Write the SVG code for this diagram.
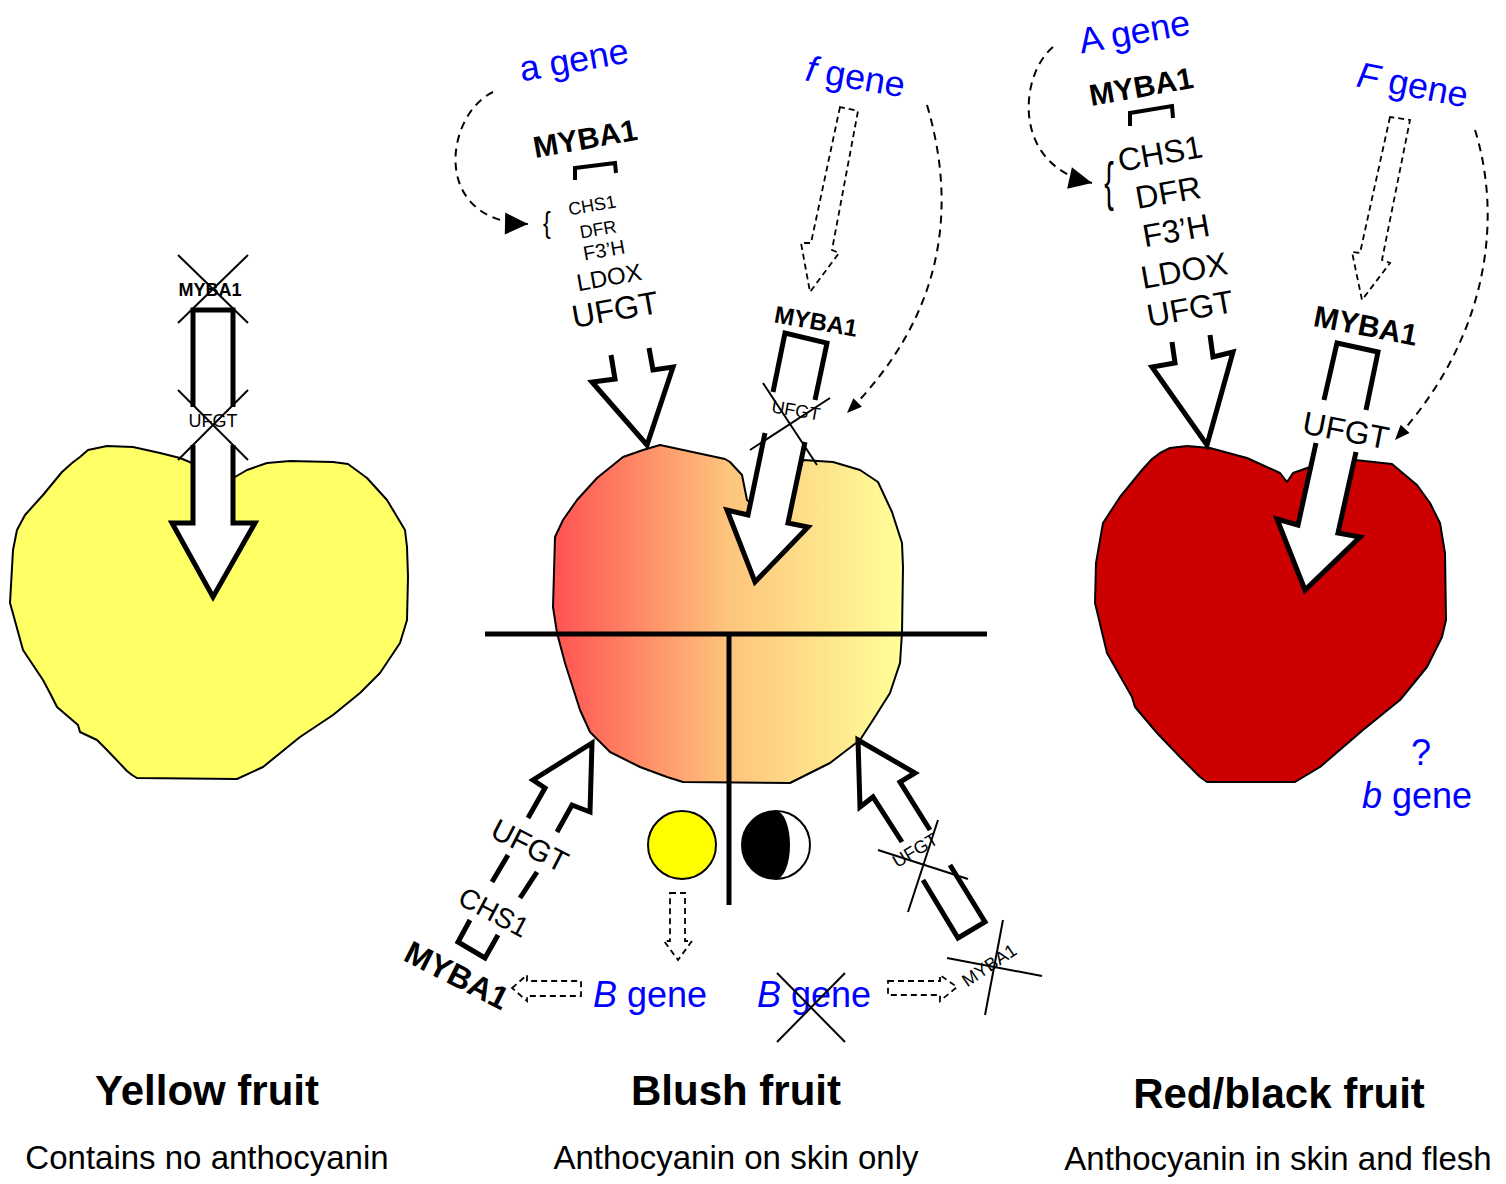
<svg xmlns="http://www.w3.org/2000/svg" width="1506" height="1184" viewBox="0 0 1506 1184">
  <style>
    text { font-family: "Liberation Sans", Arial, sans-serif; fill: #000; }
    .gene { fill: #0000ff; font-size: 36px; }
    .bold { font-weight: bold; }
    .mid { text-anchor: middle; }
    .skin { stroke: #000; stroke-width: 2; stroke-linejoin: round; }
    .body { fill: #fff; stroke: none; }
    .edge { fill: none; stroke: #000; stroke-width: 5; stroke-linejoin: miter; }
    .bracket { fill: none; stroke: #000; stroke-width: 4; }
    .cross { stroke: #000; stroke-width: 2; }
    .curve { fill: none; stroke: #000; stroke-width: 2; stroke-dasharray: 8 6; }
    .hollow { fill: none; stroke: #000; stroke-width: 1.8; stroke-dasharray: 6 4; }
    .title { font-size: 42px; font-weight: bold; text-anchor: middle; }
    .note { font-size: 33px; text-anchor: middle; }
  </style>
  <defs>
    <linearGradient id="blush" gradientUnits="userSpaceOnUse" x1="553" y1="0" x2="903" y2="0">
      <stop offset="0" stop-color="#ff5252"/>
      <stop offset="0.5" stop-color="#fdc47c"/>
      <stop offset="1" stop-color="#ffff99"/>
    </linearGradient>
    <marker id="headBig" markerUnits="userSpaceOnUse" markerWidth="30" markerHeight="30" refX="0" refY="0" orient="auto" style="overflow:visible">
      <path d="M0,0 L-23,-11 L-23,11 Z" fill="#000"/>
    </marker>
    <marker id="headSmall" markerUnits="userSpaceOnUse" markerWidth="20" markerHeight="20" refX="0" refY="0" orient="auto" style="overflow:visible">
      <path d="M0,0 L-15,-6 L-15,6 Z" fill="#000"/>
    </marker>
  </defs>

  <rect width="1506" height="1184" fill="#fff"/>

  <!-- Yellow fruit: no active MYBA1 -->
  <g id="yellow-fruit">
    <path class="skin" fill="#ffff66" d="M80,457 L88,450 L107,446 L133,447 L160,453 L180,458 L192,463 L213,470 L235,477 L247,470 L267,463 L290,461 L333,462 L348,464 L367,478 L387,500 L405,530 L407,547 L408,577 L407,620 L400,643 L380,673 L360,693 L333,715 L300,737 L263,767 L237,779 L137,778 L132,775 L127,771 L107,750 L97,740 L80,732 L78,725 L57,707 L52,697 L43,680 L23,650 L12,610 L10,603 L13,550 L17,530 L25,515 L43,495 L62,472 L72,463 Z"/>
    <path class="body" d="M193,310 L233,310 L233,523 L255,523 L213,597 L172,523 L193,523 Z"/>
    <path class="edge" d="M193,407 L193,310 L233,310 L233,407"/>
    <path class="edge" d="M193,445 L193,523 L172,523 L213,597 L255,523 L233,523 L233,445"/>
    <text class="bold mid" x="210" y="296" font-size="18">MYBA1</text>
    <line class="cross" x1="178" y1="255" x2="248" y2="323"/>
    <line class="cross" x1="248" y1="255" x2="178" y2="323"/>
    <text class="mid" x="213" y="427" font-size="18">UFGT</text>
    <line class="cross" x1="178" y1="390" x2="248" y2="460"/>
    <line class="cross" x1="248" y1="390" x2="178" y2="460"/>
  </g>

  <!-- Blush fruit: skin pathway only -->
  <g id="blush-fruit">
    <path class="skin" fill="url(#blush)" d="M660,445 L725,459 L730,462 L742,475 L747,500 L770,520 L800,470 L803,460 L833,462 L860,470 L878,482 L892,512 L902,543 L903,567 L902,633 L900,663 L890,693 L873,720 L860,740 L830,763 L790,783 L683,782 L667,777 L640,767 L610,752 L590,732 L580,710 L565,663 L557,633 L553,607 L555,537 L563,520 L577,500 L597,478 L623,457 L643,450 Z"/>
    <!-- skin / flesh section lines -->
    <line x1="485" y1="634" x2="987" y2="634" stroke="#000" stroke-width="5"/>
    <line x1="729" y1="634" x2="729" y2="905" stroke="#000" stroke-width="5"/>

    <!-- a gene side: MYBA1 drives the full pathway -->
    <g transform="translate(575,66) rotate(-10)"><text class="gene mid" y="6">a gene</text></g>
    <g transform="translate(585,138) rotate(-10)"><text class="bold mid" y="11" font-size="30">MYBA1</text></g>
    <polyline class="bracket" points="575,180 575,168 615,163 616,173"/>
    <text class="mid" transform="translate(547,233) scale(0.9,1.15)" font-size="26">{</text>
    <g transform="translate(592,205) rotate(-10)"><text class="mid" y="6.5" font-size="18">CHS1</text></g>
    <g transform="translate(598,229) rotate(-10)"><text class="mid" y="6.5" font-size="18">DFR</text></g>
    <g transform="translate(604,250) rotate(-10)"><text class="mid" y="7" font-size="20">F3’H</text></g>
    <g transform="translate(609,277) rotate(-10)"><text class="mid" y="8.6" font-size="24">LDOX</text></g>
    <g transform="translate(615,309) rotate(-10)"><text class="mid" y="11.5" font-size="32">UFGT</text></g>
    <path class="body" d="M611,355 L615,379 L592,382 L647,445 L673,367 L653,370 L649,348 Z"/>
    <path class="edge" d="M611,355 L615,379 L592,382 L647,445 L673,367 L653,370 L649,348"/>

    <!-- f gene side: flesh UFGT blocked -->
    <g transform="translate(855,80) rotate(10)"><text class="gene mid" y="9"><tspan font-style="italic">f</tspan> gene</text></g>
    <g transform="translate(816,321) rotate(10)"><text class="bold mid" y="8.6" font-size="24">MYBA1</text></g>
    <path class="body" d="M785,333 L748,515 L727,510 L755,582 L808,527 L788,523 L827,343 Z"/>
    <path class="edge" d="M773,392 L785,333 L827,343 L815,400"/>
    <path class="edge" d="M765,433 L748,515 L727,510 L755,582 L808,527 L788,523 L805,442"/>
    <g transform="translate(796,410) rotate(10)"><text class="mid" y="6.5" font-size="18">UFGT</text></g>
    <line class="cross" x1="763" y1="383" x2="817" y2="465"/>
    <line class="cross" x1="830" y1="398" x2="750" y2="450"/>

    <!-- B gene, sunlit side -->
    <circle cx="682" cy="845" r="34" fill="#ffff00" stroke="#000" stroke-width="2"/>
    <path class="body" d="M592,743 L533,780 L545,788 L458,942 L485,958 L572,805 L590,812 Z"/>
    <path class="edge" d="M528,818 L545,788 L533,780 L592,743 L590,812 L572,805 L557,832"/>
    <path class="edge" d="M508,855 L492,882"/>
    <path class="edge" d="M537,872 L520,898"/>
    <path class="edge" d="M470,920 L458,942 L485,958 L498,935"/>
    <g transform="translate(530,845) rotate(27)"><text class="mid" y="11" font-size="30">UFGT</text></g>
    <g transform="translate(494,912) rotate(28)"><text class="mid" y="10" font-size="28">CHS1</text></g>
    <g transform="translate(457,975) rotate(27)"><text class="bold mid" y="11.5" font-size="32">MYBA1</text></g>
    <text class="gene" x="593" y="1007"><tspan font-style="italic">B</tspan> gene</text>

    <!-- shaded side: B gene inactive -->
    <circle cx="776" cy="845" r="34" fill="#fff" stroke="#000" stroke-width="2"/>
    <path d="M776,811 A34,34 0 0 0 776,879 A14,34 0 0 0 776,811 Z" fill="#000"/>
    <path class="body" d="M858,740 L860,807 L873,797 L958,938 L985,922 L900,782 L915,773 Z"/>
    <path class="edge" d="M902,842 L873,797 L860,807 L858,740 L915,773 L900,782 L930,830"/>
    <path class="edge" d="M923,880 L958,938 L985,922 L950,865"/>
    <g transform="translate(915,850) rotate(-31)"><text class="mid" y="6.5" font-size="18">UFGT</text></g>
    <line class="cross" x1="878" y1="850" x2="968" y2="879"/>
    <line class="cross" x1="938" y1="820" x2="908" y2="912"/>
    <g transform="translate(989,965) rotate(-34)"><text class="mid" y="6.5" font-size="18">MYBA1</text></g>
    <line class="cross" x1="947" y1="958" x2="1042" y2="976"/>
    <line class="cross" x1="1003" y1="920" x2="985" y2="1015"/>
    <text class="gene" x="757" y="1007"><tspan font-style="italic">B</tspan> gene</text>
    <line class="cross" x1="777" y1="973" x2="845" y2="1042"/>
    <line class="cross" x1="845" y1="973" x2="777" y2="1042"/>
  </g>

  <!-- Red/black fruit: skin and flesh pathways -->
  <g id="red-fruit">
    <path class="skin" fill="#cc0000" d="M1160,453 L1170,448 L1187,446 L1210,448 L1247,458 L1280,473 L1287,482 L1293,473 L1310,467 L1330,480 L1355,460 L1392,464 L1417,485 L1430,503 L1440,523 L1445,553 L1446,620 L1442,637 L1427,667 L1400,700 L1363,730 L1320,767 L1295,782 L1207,782 L1200,777 L1180,757 L1157,733 L1135,707 L1132,697 L1107,653 L1095,603 L1096,563 L1103,523 L1120,497 L1142,470 L1152,459 Z"/>

    <g transform="translate(1135,35) rotate(-10)"><text class="gene mid" y="9">A gene</text></g>
    <g transform="translate(1141,86) rotate(-10)"><text class="bold mid" y="11" font-size="30">MYBA1</text></g>
    <polyline class="bracket" points="1130,126 1130,113 1172,106 1173,118"/>
    <text class="mid" transform="translate(1109,200) scale(0.9,1.7)" font-size="32">{</text>
    <g transform="translate(1160,153) rotate(-10)"><text class="mid" y="11.5" font-size="32">CHS1</text></g>
    <g transform="translate(1168,192) rotate(-10)"><text class="mid" y="11.5" font-size="32">DFR</text></g>
    <g transform="translate(1176,230) rotate(-10)"><text class="mid" y="11.5" font-size="32">F3’H</text></g>
    <g transform="translate(1184,270) rotate(-10)"><text class="mid" y="11.5" font-size="32">LDOX</text></g>
    <g transform="translate(1190,308) rotate(-10)"><text class="mid" y="11.5" font-size="32">UFGT</text></g>
    <path class="body" d="M1172,342 L1175,363 L1152,367 L1207,445 L1233,352 L1213,357 L1210,335 Z"/>
    <path class="edge" d="M1172,342 L1175,363 L1152,367 L1207,445 L1233,352 L1213,357 L1210,335"/>

    <g transform="translate(1412,88) rotate(11)"><text class="gene mid" y="9"><tspan font-style="italic">F</tspan> gene</text></g>
    <g transform="translate(1366,325) rotate(11)"><text class="bold mid" y="11" font-size="30">MYBA1</text></g>
    <path class="body" d="M1337,343 L1298,525 L1277,519 L1305,590 L1360,537 L1338,533 L1378,352 Z"/>
    <path class="edge" d="M1324,400 L1337,343 L1378,352 L1366,410"/>
    <path class="edge" d="M1316,443 L1298,525 L1277,519 L1305,590 L1360,537 L1338,533 L1356,452"/>
    <g transform="translate(1346,430) rotate(11)"><text class="mid" y="11.5" font-size="32">UFGT</text></g>

    <text class="gene mid" x="1421" y="765">?</text>
    <text class="gene" x="1362" y="808"><tspan font-style="italic">b</tspan> gene</text>
  </g>

  <!-- regulatory connectors -->
  <g id="connectors">
    <path class="curve" d="M493,92 C445,115 430,222 528,224" marker-end="url(#headBig)"/>
    <path class="curve" d="M1053,47 C1020,74 1010,165 1092,183" marker-end="url(#headBig)"/>
    <path class="curve" d="M927,105 C955,200 950,310 847,413" marker-end="url(#headSmall)"/>
    <path class="curve" d="M1475,130 C1500,210 1495,330 1395,440" marker-end="url(#headSmall)"/>
    <path class="hollow" d="M840,107 L811,243 L801,243 L810,292 L839,253 L832,250 L858,111 Z"/>
    <path class="hollow" d="M1390,117 L1360,253 L1352,252 L1362,300 L1390,263 L1382,260 L1410,120 Z"/>
    <path class="hollow" d="M670,893 L685,893 L685,941 L692,941 L678,960 L664,941 L670,941 Z"/>
    <path class="hollow" d="M512,988 L527,975 L527,981 L581,981 L581,996 L527,996 L527,1001 Z"/>
    <path class="hollow" d="M888,981 L940,981 L940,975 L957,987 L940,1001 L940,995 L888,995 Z"/>
  </g>

  <!-- captions -->
  <g id="captions">
    <text class="title" x="207" y="1105">Yellow fruit</text>
    <text class="note" x="207" y="1169">Contains no anthocyanin</text>
    <text class="title" x="736" y="1105">Blush fruit</text>
    <text class="note" x="736" y="1169">Anthocyanin on skin only</text>
    <text class="title" x="1279" y="1108">Red/black fruit</text>
    <text class="note" x="1278" y="1170">Anthocyanin in skin and flesh</text>
  </g>
</svg>
